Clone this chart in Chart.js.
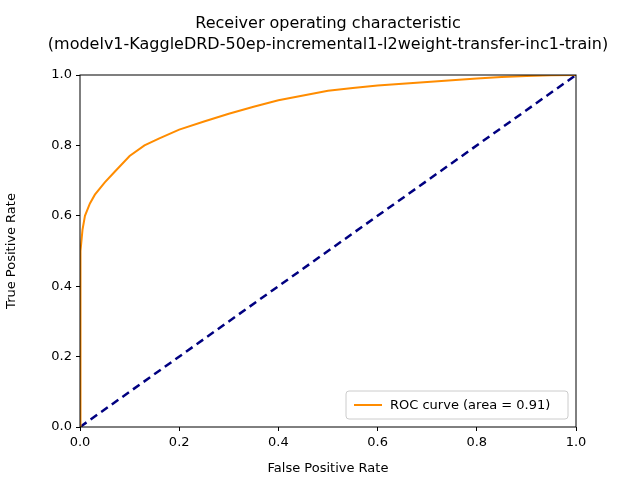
<!DOCTYPE html>
<html>
<head>
<script src="https://cdn.jsdelivr.net/npm/chart.js"></script>
<style>body{margin:0;background:#fff}#c{width:640px;height:480px}</style>
</head>
<body>
<div id="c"><canvas id="roc" width="640" height="480"></canvas></div>
<script>
// ROC curve
const fpr = [0, 0, 0.002, 0.005, 0.01, 0.02, 0.03, 0.05, 0.07, 0.1, 0.13, 0.16, 0.2, 0.25, 0.3, 0.35, 0.4, 0.45, 0.5, 0.55, 0.6, 0.65, 0.7, 0.75, 0.8, 0.85, 0.9, 0.95, 1.0];
const tpr = [0, 0.4, 0.5, 0.56, 0.6, 0.635, 0.66, 0.695, 0.725, 0.77, 0.8, 0.82, 0.845, 0.868, 0.89, 0.91, 0.928, 0.942, 0.955, 0.963, 0.97, 0.975, 0.98, 0.985, 0.99, 0.994, 0.997, 0.999, 1.0];
const chanceX = [0, 1];
const chanceY = [0, 1];
const ticks = [0, 0.2, 0.4, 0.6, 0.8, 1.0];
const titleLines = ['Receiver operating characteristic', '(modelv1-KaggleDRD-50ep-incremental1-l2weight-transfer-inc1-train)'];
const legendLabel = 'ROC curve (area = 0.91)';

const font = "'DejaVu Sans', sans-serif";

const decor = {
    id: 'decor',
    afterDraw(chart) {
        const { ctx, chartArea: a } = chart;
        ctx.save();
        ctx.strokeStyle = '#000';
        ctx.lineWidth = 1;
        ctx.strokeRect(a.left, a.top, a.right - a.left, a.bottom - a.top);
        // title
        ctx.fillStyle = '#000';
        ctx.font = '16px ' + font;
        ctx.textAlign = 'center';
        ctx.textBaseline = 'alphabetic';
        ctx.fillText(titleLines[0], (a.left + a.right) / 2, 28);
        ctx.fillText(titleLines[1], (a.left + a.right) / 2, 49);
        // legend box
        const w = 222, h = 28, x = a.right - 8 - w, y = a.bottom - 8 - h;
        ctx.strokeStyle = '#ccc';
        ctx.fillStyle = 'rgba(255,255,255,0.8)';
        ctx.beginPath();
        ctx.roundRect(x, y, w, h, 3);
        ctx.fill();
        ctx.stroke();
        ctx.strokeStyle = 'darkorange';
        ctx.lineWidth = 2;
        ctx.beginPath();
        ctx.moveTo(x + 8, y + h / 2);
        ctx.lineTo(x + 36, y + h / 2);
        ctx.stroke();
        ctx.fillStyle = '#000';
        ctx.font = '13px ' + font;
        ctx.textAlign = 'left';
        ctx.textBaseline = 'middle';
        ctx.fillText(legendLabel, x + 44, y + h / 2 + 1);
        ctx.restore();
    }
};

const toPts = (xs, ys) => xs.map((x, i) => ({ x, y: ys[i] }));

const axis = (label, fit) => ({
    type: 'linear', min: 0, max: 1,
    afterBuildTicks: s => { s.ticks = ticks.map(v => ({ value: v })); },
    afterFit: fit,
    grid: { drawOnChartArea: false, color: '#000', tickLength: 4 },
    border: { display: false },
    ticks: { color: '#000', font: { family: font, size: 13 }, padding: 4, callback: v => v.toFixed(1) },
    title: { display: true, text: label, color: '#000', font: { family: font, size: 13 } }
});

new Chart(document.getElementById('roc'), {
    type: 'scatter',
    data: {
        datasets: [
            { data: toPts(fpr, tpr), showLine: true, borderColor: 'darkorange', borderWidth: 2, pointRadius: 0, tension: 0 },
            { data: toPts(chanceX, chanceY), showLine: true, borderColor: 'navy', borderWidth: 2.5, borderDash: [8, 5], pointRadius: 0 }
        ]
    },
    options: {
        responsive: false,
        animation: false,
        layout: { padding: { left: 0, right: 64, top: 75, bottom: 0 } },
        plugins: { legend: { display: false }, tooltip: { enabled: false } },
        scales: {
            x: axis('False Positive Rate', s => { s.height = 53; }),
            y: axis('True Positive Rate', s => { s.width = 80; })
        }
    },
    plugins: [decor]
});
</script>
</body>
</html>
